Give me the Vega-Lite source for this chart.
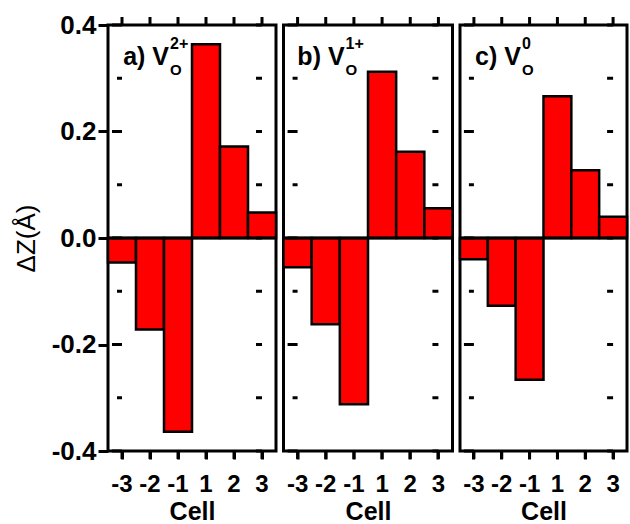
{
  "$schema": "https://vega.github.io/schema/vega-lite/v6.json",
  "padding": {"left": 11, "top": 10, "right": 0, "bottom": 0},
  "bounds": "flush",
  "spacing": 7.5,
  "datasets": {
    "bars": [
      {"panel": "a", "cell": "-3", "dz": -0.046},
      {"panel": "a", "cell": "-2", "dz": -0.172},
      {"panel": "a", "cell": "-1", "dz": -0.364},
      {"panel": "a", "cell": "1", "dz": 0.364},
      {"panel": "a", "cell": "2", "dz": 0.172},
      {"panel": "a", "cell": "3", "dz": 0.048},
      {"panel": "b", "cell": "-3", "dz": -0.055},
      {"panel": "b", "cell": "-2", "dz": -0.162},
      {"panel": "b", "cell": "-1", "dz": -0.312},
      {"panel": "b", "cell": "1", "dz": 0.312},
      {"panel": "b", "cell": "2", "dz": 0.162},
      {"panel": "b", "cell": "3", "dz": 0.056},
      {"panel": "c", "cell": "-3", "dz": -0.040},
      {"panel": "c", "cell": "-2", "dz": -0.127},
      {"panel": "c", "cell": "-1", "dz": -0.266},
      {"panel": "c", "cell": "1", "dz": 0.266},
      {"panel": "c", "cell": "2", "dz": 0.127},
      {"panel": "c", "cell": "3", "dz": 0.040}
    ],
    "labels": [
      {"panel": "a", "main": "a) V", "sup": "2+", "sub": "O"},
      {"panel": "b", "main": "b) V", "sup": "1+", "sub": "O"},
      {"panel": "c", "main": "c) V", "sup": "0", "sub": "O"}
    ],
    "yticks": [
      {"v": -0.4, "kind": "major"},
      {"v": -0.3, "kind": "minor"},
      {"v": -0.2, "kind": "major"},
      {"v": -0.1, "kind": "minor"},
      {"v": 0, "kind": "major"},
      {"v": 0.1, "kind": "minor"},
      {"v": 0.2, "kind": "major"},
      {"v": 0.3, "kind": "minor"},
      {"v": 0.4, "kind": "major"}
    ]
  },
  "config": {
    "view": {"stroke": "black", "strokeWidth": 3},
    "axis": {"domain": false, "grid": false, "tickColor": "black", "tickWidth": 3, "labelFont": "Liberation Sans", "labelFontWeight": "bold", "titleFont": "Liberation Sans"}
  },
  "hconcat": [
    {
      "width": 168,
      "height": 426,
      "layer": [
        {
          "data": {"name": "bars"},
          "transform": [{"filter": "datum.panel == 'a'"}],
          "mark": {"type": "bar", "color": "#ff0000", "stroke": "black", "strokeWidth": 2.5},
          "encoding": {
            "x": {"field": "cell", "type": "ordinal", "title": "Cell",
              "scale": {"domain": ["-3", "-2", "-1", "1", "2", "3"], "paddingInner": 0, "paddingOuter": 0},
              "axis": {"labelAngle": 0, "tickSize": 8, "labelFontSize": 24, "labelPadding": 13, "titleFontSize": 25, "titleFontWeight": "bold", "titlePadding": 3}},
            "y": {"field": "dz", "type": "quantitative", "title": "ΔZ(Å)",
              "scale": {"domain": [-0.4, 0.4], "nice": false},
              "axis": {"values": [-0.4, -0.2, 0, 0.2, 0.4], "tickSize": 10,
                "labelExpr": "replace(format(datum.value, '.1f'), '\u2212', '-')",
                "labelFontSize": 26, "labelPadding": 2, "titleFontSize": 26, "titleFontWeight": "normal", "titlePadding": 12}}
          }
        },
        {
          "data": {"name": "labels"},
          "transform": [{"filter": "datum.panel == 'a'"}],
          "mark": {"type": "rule", "color": "black", "strokeWidth": 3},
          "encoding": {"y": {"datum": 0, "type": "quantitative", "axis": null}}
        },
        {
          "data": {"name": "bars"},
          "transform": [{"filter": "datum.panel == 'a'"}],
          "mark": {"type": "tick", "orient": "vertical", "color": "black", "opacity": 1, "size": 8, "thickness": 3, "yOffset": 4},
          "encoding": {
            "x": {"field": "cell", "type": "ordinal", "axis": null},
            "y": {"datum": -0.4, "type": "quantitative", "axis": null}
          }
        },
        {
          "data": {"name": "bars"},
          "transform": [{"filter": "datum.panel == 'a'"}],
          "mark": {"type": "tick", "orient": "vertical", "color": "black", "opacity": 1, "size": 8, "thickness": 3, "yOffset": -4},
          "encoding": {
            "x": {"field": "cell", "type": "ordinal", "axis": null},
            "y": {"datum": 0.4, "type": "quantitative", "axis": null}
          }
        },
        {
          "data": {"name": "yticks"},
          "transform": [{"filter": "datum.kind == 'major'"}],
          "mark": {"type": "tick", "orient": "horizontal", "color": "black", "opacity": 1, "size": 10, "thickness": 3, "xOffset": -5},
          "encoding": {
            "x": {"datum": "-3", "type": "ordinal", "bandPosition": 0, "axis": null},
            "y": {"field": "v", "type": "quantitative", "axis": null}
          }
        },
        {
          "data": {"name": "yticks"},
          "transform": [{"filter": "datum.kind == 'minor'"}],
          "mark": {"type": "tick", "orient": "horizontal", "color": "black", "opacity": 1, "size": 5, "thickness": 3, "xOffset": -2.5},
          "encoding": {
            "x": {"datum": "-3", "type": "ordinal", "bandPosition": 0, "axis": null},
            "y": {"field": "v", "type": "quantitative", "axis": null}
          }
        },
        {
          "data": {"name": "yticks"},
          "mark": {"type": "tick", "orient": "horizontal", "color": "black", "opacity": 1, "size": 6, "thickness": 3, "xOffset": -3},
          "encoding": {
            "x": {"datum": "3", "type": "ordinal", "bandPosition": 1, "axis": null},
            "y": {"field": "v", "type": "quantitative", "axis": null}
          }
        },
        {
          "data": {"name": "labels"},
          "transform": [{"filter": "datum.panel == 'a'"}],
          "mark": {"type": "text", "align": "right", "baseline": "alphabetic", "dx": 47, "fontSize": 25, "font": "Liberation Sans", "fontWeight": "bold", "color": "black"},
          "encoding": {
            "text": {"field": "main"},
            "x": {"datum": "-3", "type": "ordinal", "axis": null},
            "y": {"datum": 0.325, "type": "quantitative", "axis": null}
          }
        },
        {
          "data": {"name": "labels"},
          "transform": [{"filter": "datum.panel == 'a'"}],
          "mark": {"type": "text", "align": "left", "baseline": "alphabetic", "dx": 48, "dy": -16, "fontSize": 16, "font": "Liberation Sans", "fontWeight": "bold", "color": "black"},
          "encoding": {
            "text": {"field": "sup"},
            "x": {"datum": "-3", "type": "ordinal", "axis": null},
            "y": {"datum": 0.325, "type": "quantitative", "axis": null}
          }
        },
        {
          "data": {"name": "labels"},
          "transform": [{"filter": "datum.panel == 'a'"}],
          "mark": {"type": "text", "align": "left", "baseline": "alphabetic", "dx": 48, "dy": 10, "fontSize": 15, "font": "Liberation Sans", "fontWeight": "bold", "color": "black"},
          "encoding": {
            "text": {"field": "sub"},
            "x": {"datum": "-3", "type": "ordinal", "axis": null},
            "y": {"datum": 0.325, "type": "quantitative", "axis": null}
          }
        }
      ],
      "resolve": {"axis": {"x": "independent", "y": "independent"}}
    },
    {
      "width": 169,
      "height": 426,
      "layer": [
        {
          "data": {"name": "bars"},
          "transform": [{"filter": "datum.panel == 'b'"}],
          "mark": {"type": "bar", "color": "#ff0000", "stroke": "black", "strokeWidth": 2.5},
          "encoding": {
            "x": {"field": "cell", "type": "ordinal", "title": "Cell",
              "scale": {"domain": ["-3", "-2", "-1", "1", "2", "3"], "paddingInner": 0, "paddingOuter": 0},
              "axis": {"labelAngle": 0, "tickSize": 8, "labelFontSize": 24, "labelPadding": 13, "titleFontSize": 25, "titleFontWeight": "bold", "titlePadding": 3}},
            "y": {"field": "dz", "type": "quantitative",
              "scale": {"domain": [-0.4, 0.4], "nice": false}, "axis": null}
          }
        },
        {
          "data": {"name": "labels"},
          "transform": [{"filter": "datum.panel == 'b'"}],
          "mark": {"type": "rule", "color": "black", "strokeWidth": 3},
          "encoding": {"y": {"datum": 0, "type": "quantitative", "axis": null}}
        },
        {
          "data": {"name": "bars"},
          "transform": [{"filter": "datum.panel == 'b'"}],
          "mark": {"type": "tick", "orient": "vertical", "color": "black", "opacity": 1, "size": 8, "thickness": 3, "yOffset": 4},
          "encoding": {
            "x": {"field": "cell", "type": "ordinal", "axis": null},
            "y": {"datum": -0.4, "type": "quantitative", "axis": null}
          }
        },
        {
          "data": {"name": "bars"},
          "transform": [{"filter": "datum.panel == 'b'"}],
          "mark": {"type": "tick", "orient": "vertical", "color": "black", "opacity": 1, "size": 8, "thickness": 3, "yOffset": -4},
          "encoding": {
            "x": {"field": "cell", "type": "ordinal", "axis": null},
            "y": {"datum": 0.4, "type": "quantitative", "axis": null}
          }
        },
        {
          "data": {"name": "yticks"},
          "transform": [{"filter": "datum.kind == 'major'"}],
          "mark": {"type": "tick", "orient": "horizontal", "color": "black", "opacity": 1, "size": 10, "thickness": 3, "xOffset": -5},
          "encoding": {
            "x": {"datum": "-3", "type": "ordinal", "bandPosition": 0, "axis": null},
            "y": {"field": "v", "type": "quantitative", "axis": null}
          }
        },
        {
          "data": {"name": "yticks"},
          "transform": [{"filter": "datum.kind == 'minor'"}],
          "mark": {"type": "tick", "orient": "horizontal", "color": "black", "opacity": 1, "size": 5, "thickness": 3, "xOffset": -2.5},
          "encoding": {
            "x": {"datum": "-3", "type": "ordinal", "bandPosition": 0, "axis": null},
            "y": {"field": "v", "type": "quantitative", "axis": null}
          }
        },
        {
          "data": {"name": "yticks"},
          "mark": {"type": "tick", "orient": "horizontal", "color": "black", "opacity": 1, "size": 6, "thickness": 3, "xOffset": -3},
          "encoding": {
            "x": {"datum": "3", "type": "ordinal", "bandPosition": 1, "axis": null},
            "y": {"field": "v", "type": "quantitative", "axis": null}
          }
        },
        {
          "data": {"name": "labels"},
          "transform": [{"filter": "datum.panel == 'b'"}],
          "mark": {"type": "text", "align": "right", "baseline": "alphabetic", "dx": 47, "fontSize": 25, "font": "Liberation Sans", "fontWeight": "bold", "color": "black"},
          "encoding": {
            "text": {"field": "main"},
            "x": {"datum": "-3", "type": "ordinal", "axis": null},
            "y": {"datum": 0.325, "type": "quantitative", "axis": null}
          }
        },
        {
          "data": {"name": "labels"},
          "transform": [{"filter": "datum.panel == 'b'"}],
          "mark": {"type": "text", "align": "left", "baseline": "alphabetic", "dx": 48, "dy": -16, "fontSize": 16, "font": "Liberation Sans", "fontWeight": "bold", "color": "black"},
          "encoding": {
            "text": {"field": "sup"},
            "x": {"datum": "-3", "type": "ordinal", "axis": null},
            "y": {"datum": 0.325, "type": "quantitative", "axis": null}
          }
        },
        {
          "data": {"name": "labels"},
          "transform": [{"filter": "datum.panel == 'b'"}],
          "mark": {"type": "text", "align": "left", "baseline": "alphabetic", "dx": 48, "dy": 10, "fontSize": 15, "font": "Liberation Sans", "fontWeight": "bold", "color": "black"},
          "encoding": {
            "text": {"field": "sub"},
            "x": {"datum": "-3", "type": "ordinal", "axis": null},
            "y": {"datum": 0.325, "type": "quantitative", "axis": null}
          }
        }
      ],
      "resolve": {"axis": {"x": "independent", "y": "independent"}}
    },
    {
      "width": 167,
      "height": 426,
      "layer": [
        {
          "data": {"name": "bars"},
          "transform": [{"filter": "datum.panel == 'c'"}],
          "mark": {"type": "bar", "color": "#ff0000", "stroke": "black", "strokeWidth": 2.5},
          "encoding": {
            "x": {"field": "cell", "type": "ordinal", "title": "Cell",
              "scale": {"domain": ["-3", "-2", "-1", "1", "2", "3"], "paddingInner": 0, "paddingOuter": 0},
              "axis": {"labelAngle": 0, "tickSize": 8, "labelFontSize": 24, "labelPadding": 13, "titleFontSize": 25, "titleFontWeight": "bold", "titlePadding": 3}},
            "y": {"field": "dz", "type": "quantitative",
              "scale": {"domain": [-0.4, 0.4], "nice": false}, "axis": null}
          }
        },
        {
          "data": {"name": "labels"},
          "transform": [{"filter": "datum.panel == 'c'"}],
          "mark": {"type": "rule", "color": "black", "strokeWidth": 3},
          "encoding": {"y": {"datum": 0, "type": "quantitative", "axis": null}}
        },
        {
          "data": {"name": "bars"},
          "transform": [{"filter": "datum.panel == 'c'"}],
          "mark": {"type": "tick", "orient": "vertical", "color": "black", "opacity": 1, "size": 8, "thickness": 3, "yOffset": 4},
          "encoding": {
            "x": {"field": "cell", "type": "ordinal", "axis": null},
            "y": {"datum": -0.4, "type": "quantitative", "axis": null}
          }
        },
        {
          "data": {"name": "bars"},
          "transform": [{"filter": "datum.panel == 'c'"}],
          "mark": {"type": "tick", "orient": "vertical", "color": "black", "opacity": 1, "size": 8, "thickness": 3, "yOffset": -4},
          "encoding": {
            "x": {"field": "cell", "type": "ordinal", "axis": null},
            "y": {"datum": 0.4, "type": "quantitative", "axis": null}
          }
        },
        {
          "data": {"name": "yticks"},
          "transform": [{"filter": "datum.kind == 'major'"}],
          "mark": {"type": "tick", "orient": "horizontal", "color": "black", "opacity": 1, "size": 10, "thickness": 3, "xOffset": -5},
          "encoding": {
            "x": {"datum": "-3", "type": "ordinal", "bandPosition": 0, "axis": null},
            "y": {"field": "v", "type": "quantitative", "axis": null}
          }
        },
        {
          "data": {"name": "yticks"},
          "transform": [{"filter": "datum.kind == 'minor'"}],
          "mark": {"type": "tick", "orient": "horizontal", "color": "black", "opacity": 1, "size": 5, "thickness": 3, "xOffset": -2.5},
          "encoding": {
            "x": {"datum": "-3", "type": "ordinal", "bandPosition": 0, "axis": null},
            "y": {"field": "v", "type": "quantitative", "axis": null}
          }
        },
        {
          "data": {"name": "yticks"},
          "mark": {"type": "tick", "orient": "horizontal", "color": "black", "opacity": 1, "size": 6, "thickness": 3, "xOffset": -3},
          "encoding": {
            "x": {"datum": "3", "type": "ordinal", "bandPosition": 1, "axis": null},
            "y": {"field": "v", "type": "quantitative", "axis": null}
          }
        },
        {
          "data": {"name": "labels"},
          "transform": [{"filter": "datum.panel == 'c'"}],
          "mark": {"type": "text", "align": "right", "baseline": "alphabetic", "dx": 47, "fontSize": 25, "font": "Liberation Sans", "fontWeight": "bold", "color": "black"},
          "encoding": {
            "text": {"field": "main"},
            "x": {"datum": "-3", "type": "ordinal", "axis": null},
            "y": {"datum": 0.325, "type": "quantitative", "axis": null}
          }
        },
        {
          "data": {"name": "labels"},
          "transform": [{"filter": "datum.panel == 'c'"}],
          "mark": {"type": "text", "align": "left", "baseline": "alphabetic", "dx": 48, "dy": -16, "fontSize": 16, "font": "Liberation Sans", "fontWeight": "bold", "color": "black"},
          "encoding": {
            "text": {"field": "sup"},
            "x": {"datum": "-3", "type": "ordinal", "axis": null},
            "y": {"datum": 0.325, "type": "quantitative", "axis": null}
          }
        },
        {
          "data": {"name": "labels"},
          "transform": [{"filter": "datum.panel == 'c'"}],
          "mark": {"type": "text", "align": "left", "baseline": "alphabetic", "dx": 48, "dy": 10, "fontSize": 15, "font": "Liberation Sans", "fontWeight": "bold", "color": "black"},
          "encoding": {
            "text": {"field": "sub"},
            "x": {"datum": "-3", "type": "ordinal", "axis": null},
            "y": {"datum": 0.325, "type": "quantitative", "axis": null}
          }
        }
      ],
      "resolve": {"axis": {"x": "independent", "y": "independent"}}
    }
  ]
}
